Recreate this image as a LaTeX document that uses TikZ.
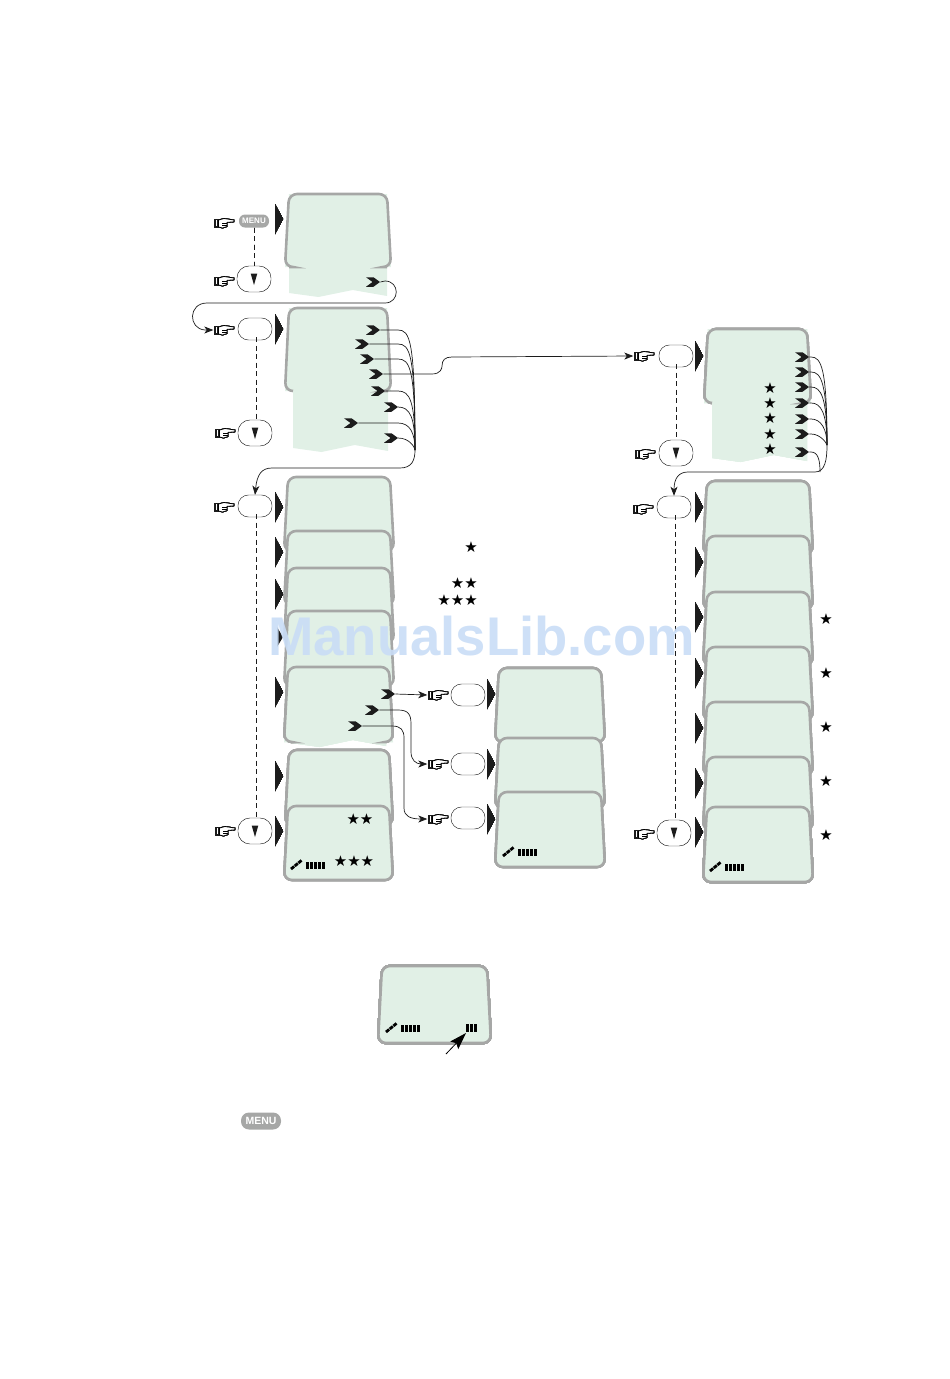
\documentclass[tikz,border=0pt]{standalone}
\usepackage{fontspec}
\setmainfont{Liberation Sans}
\newfontfamily\symfont{DejaVu Sans}
\usetikzlibrary{arrows.meta, shapes.symbols}
\definecolor{lcdface}{HTML}{E1F0E6}
\definecolor{lcdedge}{HTML}{A6A7A6}
\definecolor{markdark}{HTML}{1C1C1C}
\definecolor{wmblue}{HTML}{C9DDF6}
\tikzset{
  lcd/.style={fill=lcdface, draw=lcdedge, line width=2.6pt, rounded corners=8pt},
  chev/.style={signal, signal from=west, signal to=east, signal pointer angle=72, fill=markdark, inner sep=0pt, minimum width=14pt, minimum height=9.5pt},
  wire/.style={draw=markdark, line width=0.7pt},
  wirearrow/.style={wire, -{Stealth[length=9pt,width=7pt,inset=2.5pt]}},
  dashline/.style={draw=markdark, line width=0.7pt, dash pattern=on 5pt off 3.5pt},
  softkey/.style={draw=markdark, line width=0.45pt, rounded corners=10.5pt, minimum width=34pt, minimum height=22pt, inner sep=0pt},
  downkey/.style={softkey, minimum height=26pt, rounded corners=12pt},
  menukey/.style={fill=lcdedge, rounded corners=6pt, text=white, font=\fontsize{8}{8}\selectfont\bfseries, minimum width=30pt, minimum height=13pt, inner sep=0pt},
  starmark/.style={font=\symfont\fontsize{15}{15}\selectfont, inner sep=0pt, text=black},
  handbox/.style={inner sep=0pt, minimum width=21pt, minimum height=11pt}
}
\newcommand{\lcdscreen}[4]{\draw[lcd] ({#1+4},#3) -- ({#2-4},#3) -- (#2,#4) -- (#1,#4) -- cycle;}
% open screen, green runs on under the frame
\newcommand{\lcdtail}[7]{
  \fill[lcdface] ({#1+4},#3) -- ({#2-4},#3) -- (#2,#4) -- (#6,#4) -- (#6,{#7-1}) -- ({#5+0.65*(#6-#5)},{#7-7}) -- ({#5+0.3*(#6-#5)},#7) -- (#5,{#7-4}) -- (#5,#4) -- (#1,#4) -- cycle;
  \draw[lcd, fill=none] (#5,#4) -- (#1,#4) -- ({#1+4},#3) -- ({#2-4},#3) -- (#2,#4) -- (#6,#4);
}
\newcommand{\handmark}[3]{
  \node[handbox] (#1) at (#2,#3) {};
  \begin{scope}[shift={(#1.center)}]
    \fill[markdark] (-10,-4.5) rectangle (-5.5,4.5);
    \fill[white] (-8.4,-3) rectangle (-7.4,3);
    \draw[fill=white, line width=0.8pt] (-5.5,-3) -- (0,-4.5) -- (10,-3) -- (10,-1.2) -- (3,-0.6) -- (3,3.5) -- (-1.5,5) -- (-5.5,4) -- cycle;
    \draw[line width=0.7pt] (-2,0.6) -- (3,0.6) (-2,2.6) -- (3,2.6);
  \end{scope}
}
\newcommand{\downmark}[1]{\fill[markdark] ([shift={(-3.3,-5.5)}]#1.center) -- ([shift={(3.3,-5.5)}]#1.center) -- ([shift={(0,6)}]#1.center) -- cycle;}
\newcommand{\satbars}[2]{
  \draw[black, line width=2.8pt, dash pattern=on 4pt off 0.8pt] (#1,#2) -- ({#1+11},{#2-9});
  \foreach \i in {0,...,4} \fill[black] ({#1+15+4*\i},{#2-7}) rectangle +(3,7);
}
\begin{document}
\begin{tikzpicture}[x=1pt,y=-1pt]
\useasboundingbox (0,0) rectangle (950,1379);
% left column screens
\lcdtail{285}{391}{194}{267}{289}{387}{297}
\lcdtail{285}{391}{308}{391}{293}{388}{452}
\foreach \top/\bot in {477/551,531/605,568/643,611/686} \lcdscreen{284}{394}{\top}{\bot}
\lcdtail{284}{393}{667}{742}{291}{386}{747}
\lcdscreen{285}{393}{750}{825}
\lcdscreen{284}{393}{806}{880}
% middle column
\lcdscreen{495}{605}{668}{742}
\lcdscreen{495}{605}{738}{808}
\lcdscreen{495}{605}{792}{867}
% right column
\lcdtail{704}{811}{329}{403}{712}{807}{462}
\foreach \top in {481,536,592,647,702,757} \lcdscreen{703}{813}{\top}{\top+73}
\lcdscreen{703}{813}{807}{882}
\lcdscreen{378}{491}{966}{1043}
% pointers beside the screens
\foreach \x/\y in {275/219,275/329,275/507,275/552,275/594,275/692,275/776,275/831,487/694,487/764,487/819,695/356,695/507,695/562,695/617,695/673,695/728,695/783,695/832}
  \fill[markdark] (\x,{\y-15}) -- ({\x+8},\y) -- (\x,{\y+15}) -- cycle;
\fill[markdark] (277,627) -- (283,637) -- (277,647) -- cycle;
% keys
\node[menukey] (keymenu) at (254,221) {MENU};
\node[downkey] (keyda) at (254,279) {};
\node[softkey] (keyb) at (255,329) {};
\node[downkey] (keydb) at (255,433) {};
\node[softkey] (keyc) at (255,506) {};
\node[downkey] (keydc) at (255,831) {};
\node[softkey] (keyd) at (468,695) {};
\node[softkey] (keye) at (468,764) {};
\node[softkey] (keyf) at (468,818) {};
\node[softkey] (keyg) at (676,356) {};
\node[downkey] (keydg) at (676,453) {};
\node[softkey] (keyh) at (674,507) {};
\node[downkey] (keydh) at (674,833) {};
\node[menukey, minimum width=40pt, minimum height=17pt, rounded corners=8pt, font=\fontsize{10.5}{10.5}\selectfont\bfseries] (keylow) at (261,1121) {MENU};
\foreach \k in {keyda,keydb,keydc,keydg,keydh} \downmark{\k}
% hands
\handmark{hnda}{224}{223}
\handmark{hndb}{224}{281}
\handmark{hndc}{224}{330}
\handmark{hndd}{225}{433}
\handmark{hnde}{224}{507}
\handmark{hndf}{225}{831}
\handmark{hndg}{438}{695}
\handmark{hndh}{438}{764}
\handmark{hndi}{438}{819}
\handmark{hndj}{644}{356}
\handmark{hndk}{645}{454}
\handmark{hndl}{643}{509}
\handmark{hndm}{644}{834}
% dashed key links
\draw[dashline] (keymenu.south) -- (keyda.north);
\draw[dashline] ([xshift=1.5pt,yshift=3pt]keyb.south) -- ([xshift=1.5pt]keydb.north);
\draw[dashline] ([xshift=1.5pt,yshift=3pt]keyc.south) -- ([xshift=1.5pt]keydc.north);
\draw[dashline] ([yshift=3pt]keyg.south) -- (keydg.north);
\draw[dashline] ([xshift=1pt,yshift=3pt]keyh.south) -- ([xshift=1pt]keydh.north);
% chevrons
\node[chev] (cha) at (373,282) {};
\foreach \n/\x/\y in {1/373/330,2/362/344,3/367/359,4/376/374,5/378/391,6/391/407,7/351/423,8/391/438}
  \node[chev] (chb\n) at (\x,\y) {};
\foreach \n/\y in {1/357,2/372,3/387,4/403,5/419,6/434,7/452}
  \node[chev] (chc\n) at (802,\y) {};
\node[chev] (chd1) at (388,694) {};
\node[chev] (chd2) at (372,710) {};
\node[chev] (chd3) at (355,726) {};
% connectors
\draw[wirearrow] (cha.east) -- (385,281) .. controls (400,281) and (400,303) .. (385,303) -- (207,303) .. controls (188,303) and (188,329) .. (205,330) -- (hndc.west);
\coordinate (trunkb) at (415,450);
\foreach \n/\y in {1/330,2/344,3/359,5/391,6/407,7/423,8/438}
  \draw[wire] (chb\n.east) -- (398,\y) .. controls (410,\y) and (415,{\y+10}) .. (trunkb);
\draw[wirearrow] (trunkb) .. controls (415,460) and (412,468) .. (400,468) -- (272,468) .. controls (262,468) and (257,474) .. (keyc.north);
\draw[wirearrow] (chb4.east) -- (432,374) .. controls (441,374) and (442,368) .. (442,366) .. controls (442,360) and (445,357) .. (452,357) -- (hndj.west);
\coordinate (trunkc) at (827,445);
\foreach \n/\y in {1/357,2/372,3/387,4/403,5/419,6/434}
  \draw[wire] (chc\n.east) -- (811,\y) .. controls (821,\y) and (827,{\y+10}) .. (trunkc);
\draw[wire] (chc7.east) -- (811,452) .. controls (818,452) and (820,460) .. (820,472);
\draw[wirearrow] (trunkc) .. controls (827,460) and (825,472) .. (815,472) -- (688,472) .. controls (679,472) and (674,478) .. (keyh.north);
\draw[wirearrow] (chd1.east) -- (hndg.west);
\draw[wirearrow] (chd2.east) -- (398,710) .. controls (408,710) and (411,714) .. (411,724) -- (411,752) .. controls (411,760) and (416,764) .. (hndh.west);
\draw[wirearrow] (chd3.east) -- (392,726) .. controls (401,726) and (404,730) .. (404,738) -- (404,808) .. controls (404,816) and (410,819) .. (hndi.west);
% stars
\foreach \n/\y in {1/388,2/403,3/418,4/434,5/449} \node[starmark] (stc\n) at (770,\y) {★};
\foreach \n/\y in {1/619,2/673,3/727,4/781,5/835} \node[starmark] (str\n) at (826,\y) {★};
\node[starmark] (stm1) at (471,547) {★};
\node[starmark, anchor=east] (stm2) at (478,583) {★★};
\node[starmark, anchor=east] (stm3) at (478,600) {★★★};
\node[starmark] (stl1) at (360,819) {★★};
\node[starmark] (stl2) at (354,861) {★★★};
% level bars
\satbars{291}{869}
\satbars{503}{856}
\satbars{710}{871}
\satbars{386}{1032}
\foreach \i in {0,1,2} \fill[black] ({466+4*\i},1024) rectangle +(3,8);
\coordinate (ptrfoot) at (446,1054);
\coordinate (ptrhead) at (466,1033);
\draw[line width=0.8pt, -{Stealth[length=17pt,width=11pt,inset=3pt]}] (ptrfoot) -- (ptrhead);
% scan watermark
\node[font=\fontsize{54.5}{60}\selectfont\bfseries, text=wmblue, opacity=0.9, inner sep=0pt] (wmark) at (481.5,636) {ManualsLib.com};
\end{tikzpicture}
\end{document}
